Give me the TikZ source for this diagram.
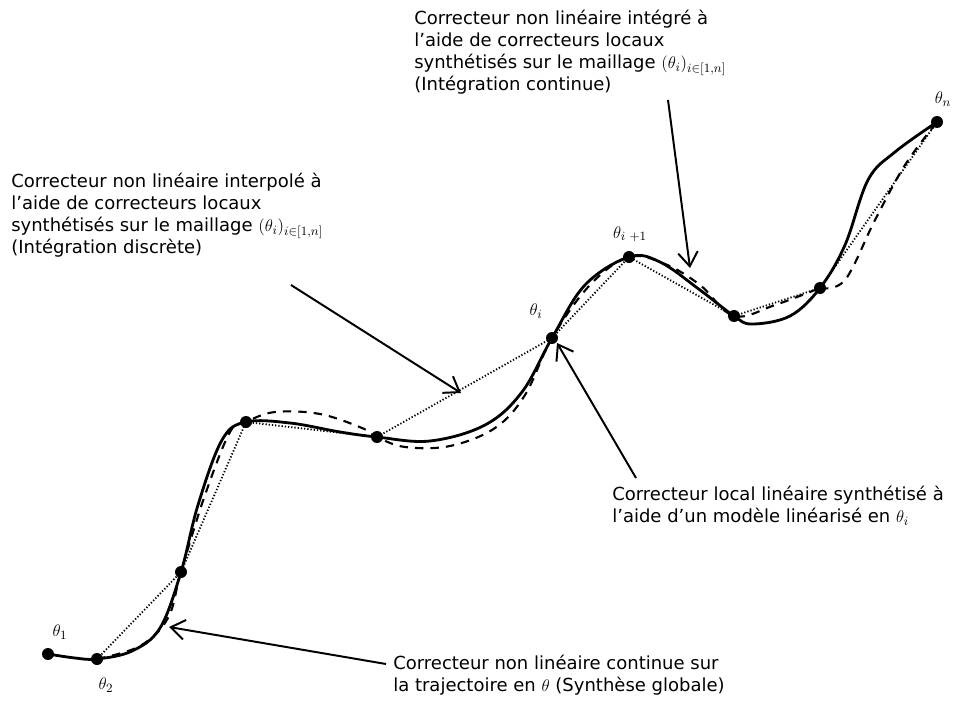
\documentclass[tikz,border=0pt]{standalone}
\usepackage{fontspec}
\setmainfont{DejaVu Sans}
\usetikzlibrary{arrows.meta}

\tikzset{
  dot/.style={circle, fill=black, inner sep=0pt, minimum size=0.3cm},
  trajet/.style={black, line width=2pt},
  integre/.style={black, line width=1.5pt, dash pattern=on 6pt off 5pt},
  interp/.style={black, line width=1.3pt, dash pattern=on 0.9pt off 1.4pt},
  fleche/.style={black, line width=1.4pt, -{Straight Barb[length=10pt,width=14pt,line width=1.4pt]}},
  texte/.style={anchor=north west, align=left, inner sep=0pt, font=\fontsize{12.8}{15.6}\selectfont},
  lbl/.style={inner sep=0pt, font=\fontsize{13}{14}\selectfont}
}

\begin{document}
\begin{tikzpicture}[x=0.025cm, y=-0.025cm]
  \useasboundingbox (0,0) rectangle (961,709);

  % points du maillage
  \coordinate (t1) at (48,654);
  \coordinate (t2) at (97,659);
  \coordinate (p3) at (181,572);
  \coordinate (p4) at (246,422);
  \coordinate (p5) at (377,437);
  \coordinate (ti) at (552,338);
  \coordinate (tj) at (629,257);
  \coordinate (p8) at (734,316);
  \coordinate (p9) at (820,288);
  \coordinate (tn) at (937,122);

  % interpolation (discrete)
  \draw[interp] (t2) -- (p3) -- (p4) -- (p5) -- (ti) -- (tj) -- (p8) -- (p9) -- (tn);

  % integration continue
  \draw[integre] plot[smooth, tension=0.6] coordinates {(t2) (140,646) (168,618) (p3) (205,495) (230,432) (p4) (275,412) (320,414) (362,428) (p5) (405,447) (450,446) (495,428) (525,395) (ti) (590,285) (tj) (665,264) (700,285) (p8) (775,305) (p9)};
  \draw[integre] plot[smooth, tension=0.6] coordinates {(p9) (845,280) (875,220) (905,165) (tn)};

  % trajectoire (synthese globale)
  \draw[trajet] plot[smooth, tension=0.6] coordinates {(t1) (75,658) (t2) (132,651) (160,628) (p3) (198,505) (222,440) (p4) (290,423) (340,432) (p5) (430,441) (485,425) (522,392) (ti) (585,285) (tj) (660,262) (700,290) (p8) (752,324) (790,316) (p9) (845,245) (868,180) (895,152) (tn)};

  \foreach \p in {t1,t2,p3,p4,p5,ti,tj,p8,p9,tn}
    \node[dot] (d\p) at (\p) {};

  % etiquettes
  \node[lbl] (l1) at (60,632) {$\theta_1$};
  \node[lbl] (l2) at (106,685) {$\theta_2$};
  \node[lbl] (li) at (536,311) {$\theta_i$};
  \node[lbl] (lj) at (630,234) {$\theta_i{}_{\;+1}$};
  \node[lbl] (ln) at (943,99) {$\theta_n$};

  % textes
  \node[texte] (txtA) at (11,173) {Correcteur non linéaire interpolé à\\l'aide de correcteurs locaux\\synthétisés sur le maillage $(\theta_i)_{i\in[1,n]}$\\(Intégration discrète)};
  \node[texte] (txtB) at (414,10) {Correcteur non linéaire intégré à\\l'aide de correcteurs locaux\\synthétisés sur le maillage $(\theta_i)_{i\in[1,n]}$\\(Intégration continue)};
  \node[texte] (txtC) at (612,486) {Correcteur local linéaire synthétisé à\\l'aide d'un modèle linéarisé en $\theta_i$};
  \node[texte] (txtD) at (393,655) {Correcteur non linéaire continue sur\\la trajectoire en $\theta$ (Synthèse globale)};

  % fleches
  \coordinate (fA) at (291,285);
  \coordinate (fB) at (668,100);
  \coordinate (fC) at (636,478);
  \coordinate (fD) at (386,664);
  \draw[fleche] (fA) -- (461,393);
  \draw[fleche] (fB) -- (690,268);
  \draw[fleche] (fC) -- (557,343);
  \draw[fleche] (fD) -- (169,627);
\end{tikzpicture}
\end{document}
